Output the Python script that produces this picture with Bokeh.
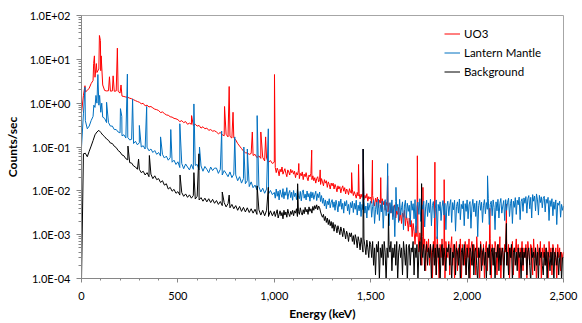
from bokeh.plotting import figure
from bokeh.models import (Range1d, FixedTicker, SingleIntervalTicker, NumeralTickFormatter,
                          CustomJSTickFormatter, Legend, LegendItem)
from bokeh.embed import file_html
from bokeh.resources import INLINE

# ---------------- data ----------------
# channel energies: 10 keV bins below 1 MeV, 5 keV bins above
energy_kev = list(range(0, 1000, 10)) + list(range(1000, 2501, 5))

uo3_cps = [
    # 0 - 990 keV (10 keV)
    0.6, 1.5, 1.8, 1.95, 2.2, 2.8, 3.3, 3.9, 5.0, 6.0,
    5.5, 2.6, 1.95, 1.9, 1.92, 1.88, 1.9, 1.87, 1.9, 1.86,
    1.7, 1.45, 1.42, 1.38, 1.36, 1.3, 1.26, 1.2, 1.14, 1.09,
    1.05, 0.97, 0.99, 0.87, 0.9, 0.82, 0.84, 0.78, 0.73, 0.71,
    0.68, 0.61, 0.63, 0.58, 0.54, 0.53, 0.49, 0.48, 0.45, 0.44,
    0.42, 0.38, 0.4, 0.36, 0.38, 0.33, 0.35, 0.33, 0.31, 0.33,
    0.3, 0.31, 0.27, 0.29, 0.26, 0.27, 0.24, 0.25, 0.23, 0.235,
    0.22, 0.2, 0.215, 0.19, 0.18, 0.195, 0.17, 0.175, 0.16, 0.162,
    0.145, 0.12, 0.105, 0.092, 0.081, 0.074, 0.073, 0.068, 0.071, 0.064,
    0.068, 0.057, 0.063, 0.055, 0.058, 0.048, 0.055, 0.045, 0.049, 0.042,
    # 1000 - 2500 keV (5 keV)
    0.045, 0.034, 0.026, 0.033, 0.029, 0.022, 0.031, 0.027, 0.035, 0.024,
    0.028, 0.032, 0.025, 0.021, 0.03, 0.027, 0.023, 0.031, 0.026, 0.029,
    0.024, 0.028, 0.02, 0.026, 0.023, 0.029, 0.019, 0.025, 0.022, 0.027,
    0.018, 0.024, 0.021, 0.026, 0.02, 0.017, 0.023, 0.021, 0.025, 0.018,
    0.022, 0.017, 0.02, 0.015, 0.019, 0.021, 0.016, 0.018, 0.014, 0.019,
    0.016, 0.013, 0.018, 0.015, 0.017, 0.012, 0.016, 0.014, 0.011, 0.015,
    0.013, 0.015, 0.011, 0.014, 0.012, 0.0095, 0.013, 0.011, 0.0125, 0.009,
    0.0115, 0.013, 0.0098, 0.0118, 0.0085, 0.011, 0.0102, 0.0082, 0.0112, 0.0094,
    0.0088, 0.0105, 0.0078, 0.0096, 0.0082, 0.0068, 0.0092, 0.0076, 0.0088, 0.0065,
    0.0084, 0.0071, 0.0093, 0.0062, 0.0079, 0.0068, 0.0086, 0.0058, 0.0074, 0.0066,
    0.0072, 0.0052, 0.0078, 0.0058, 0.0045, 0.0068, 0.0055, 0.0072, 0.0042, 0.0061,
    0.0053, 0.0039, 0.0066, 0.0048, 0.0058, 0.0036, 0.0055, 0.0046, 0.0033, 0.0052,
    0.0048, 0.0031, 0.0044, 0.0026, 0.0039, 0.0048, 0.0024, 0.0035, 0.0029, 0.0042,
    0.0021, 0.0033, 0.0018, 0.0031, 0.0025, 0.0036, 0.0016, 0.0027, 0.0021, 0.0012,
    0.0024, 0.0015, 0.0021, 0.0009, 0.0018, 0.0012, 0.0006, 0.0016, 0.0009, 0.0013,
    0.0004, 0.0011, 0.0007, 0.0002, 0.0009, 0.0005, 0.0008, 0.00015, 0.0007, 0.0004,
    0.0008, 0.0002, 0.0006, 0.0004, 0.00009, 0.0007, 0.0003, 0.0005, 0.00012, 0.0009,
    0.0004, 0.00007, 0.0006, 0.0003, 0.0008, 0.0002, 0.0005, 0.00009, 0.0007, 0.0004,
    0.0003, 0.0007, 0.00012, 0.0005, 0.0009, 0.0002, 0.0006, 0.00009, 0.0004, 0.0007,
    0.00015, 0.0005, 0.0003, 0.0008, 0.00007, 0.0006, 0.0004, 0.0002, 0.0007, 0.00012,
    0.0006, 0.0003, 0.0008, 0.00009, 0.0005, 0.0007, 0.0002, 0.0006, 0.0004, 0.00012,
    0.0009, 0.0003, 0.0005, 0.00007, 0.0007, 0.0004, 0.0002, 0.0006, 0.00009, 0.0005,
    0.0007, 0.00015, 0.0005, 0.0003, 0.0008, 0.00009, 0.0006, 0.0004, 0.0002, 0.0007,
    0.0005, 0.00012, 0.0006, 0.0003, 0.0009, 0.00007, 0.0005, 0.0004, 0.0002, 0.0006,
    0.0004, 0.0008, 0.0002, 0.0006, 0.00009, 0.0005, 0.0003, 0.0007, 0.00012, 0.0005,
    0.0004, 0.0008, 0.0002, 0.0006, 0.00007, 0.0005, 0.0003, 0.0007, 0.00015, 0.0005,
    0.0003, 0.0006, 0.00009, 0.0007, 0.0004, 0.0002, 0.0006, 0.0005, 0.00012, 0.0008,
    0.0003, 0.0005, 0.00007, 0.0006, 0.0004, 0.0002, 0.0007, 0.00009, 0.0005, 0.0003,
    0.0006, 0.0002, 0.0005, 0.0004, 0.00009, 0.0007, 0.0003, 0.0005, 0.00012, 0.0006,
    0.0004, 0.0002, 0.0005, 0.00007, 0.0006, 0.0003, 0.0005, 0.00015, 0.0004, 0.0003,
    0.0004,
]

lantern_cps = [
    # 0 - 990 keV (10 keV)
    0.1, 0.57, 0.4, 0.26, 0.3, 0.4, 0.5, 0.8, 1.0, 0.9,
    0.62, 0.48, 0.45, 0.36, 0.36, 0.3, 0.3, 0.25, 0.25, 0.22,
    0.21, 0.18, 0.19, 0.16, 0.165, 0.145, 0.15, 0.12, 0.135, 0.112,
    0.125, 0.1, 0.107, 0.09, 0.099, 0.082, 0.09, 0.075, 0.083, 0.068,
    0.075, 0.062, 0.068, 0.056, 0.062, 0.05, 0.057, 0.045, 0.05, 0.04,
    0.046, 0.034, 0.042, 0.032, 0.041, 0.035, 0.03, 0.04, 0.031, 0.038,
    0.04, 0.03, 0.037, 0.028, 0.036, 0.031, 0.026, 0.035, 0.029, 0.033,
    0.033, 0.025, 0.031, 0.023, 0.029, 0.025, 0.021, 0.027, 0.02, 0.024,
    0.023, 0.017, 0.021, 0.015, 0.019, 0.0145, 0.017, 0.0125, 0.016, 0.0118,
    0.0135, 0.0105, 0.0125, 0.0094, 0.0115, 0.0088, 0.011, 0.0085, 0.0102, 0.0082,
    # 1000 - 2500 keV (5 keV)
    0.0092, 0.0068, 0.011, 0.0075, 0.0098, 0.0062, 0.0105, 0.0084, 0.0071, 0.0112,
    0.0066, 0.0095, 0.0079, 0.0118, 0.0064, 0.0088, 0.0102, 0.007, 0.0093, 0.0061,
    0.0102, 0.0074, 0.0089, 0.0063, 0.0108, 0.0078, 0.0066, 0.0097, 0.0059, 0.0091,
    0.0105, 0.0068, 0.0084, 0.0062, 0.0099, 0.0072, 0.0087, 0.0058, 0.0095, 0.0069,
    0.0092, 0.0064, 0.0081, 0.0098, 0.006, 0.0086, 0.007, 0.0094, 0.0057, 0.0078,
    0.0052, 0.0068, 0.0045, 0.0062, 0.0039, 0.0058, 0.0048, 0.0066, 0.0041, 0.0055,
    0.0063, 0.0042, 0.0056, 0.0036, 0.0061, 0.0047, 0.0033, 0.0058, 0.0044, 0.0065,
    0.0038, 0.0052, 0.0031, 0.0057, 0.0045, 0.006, 0.0035, 0.0049, 0.0029, 0.0054,
    0.0041, 0.0058, 0.0032, 0.0052, 0.0038, 0.0061, 0.0028, 0.0047, 0.0035, 0.0056,
    0.0026, 0.0049, 0.0037, 0.0059, 0.0031, 0.0045, 0.0024, 0.0053, 0.0036, 0.0048,
    0.0058, 0.0025, 0.0044, 0.0062, 0.0018, 0.0037, 0.0055, 0.0029, 0.0065, 0.0021,
    0.0048, 0.0033, 0.0059, 0.0014, 0.0042, 0.0063, 0.0027, 0.0051, 0.0038, 0.0016,
    0.0054, 0.0031, 0.0062, 0.0022, 0.0046, 0.0009, 0.0057, 0.0035, 0.0049, 0.0019,
    0.0064, 0.0028, 0.0041, 0.0056, 0.0013, 0.0045, 0.0061, 0.0024, 0.0052, 0.0034,
    0.0047, 0.0017, 0.0059, 0.0036, 0.0051, 0.0023, 0.0063, 0.0011, 0.0044, 0.0055,
    0.0029, 0.0066, 0.002, 0.0048, 0.0038, 0.0058, 0.0015, 0.0043, 0.0061, 0.0026,
    0.0053, 0.0032, 0.0064, 0.0016, 0.0046, 0.0057, 0.0024, 0.0039, 0.0062, 0.0008,
    0.0049, 0.0035, 0.0056, 0.0021, 0.0043, 0.006, 0.0028, 0.0052, 0.0013, 0.0045,
    0.0058, 0.0027, 0.0047, 0.0063, 0.0019, 0.0054, 0.0037, 0.0061, 0.0012, 0.0044,
    0.0056, 0.0031, 0.0065, 0.0022, 0.0049, 0.0039, 0.0059, 0.0016, 0.0051, 0.0034,
    0.0062, 0.0023, 0.0048, 0.0057, 0.0014, 0.0043, 0.0064, 0.0033, 0.0052, 0.0026,
    0.0059, 0.0009, 0.0046, 0.0061, 0.0036, 0.0055, 0.0019, 0.0047, 0.0063, 0.003,
    0.0054, 0.0038, 0.0066, 0.0017, 0.0049, 0.0058, 0.0027, 0.0062, 0.0042, 0.0013,
    0.0056, 0.0035, 0.0064, 0.0024, 0.0051, 0.0067, 0.0031, 0.0045, 0.006, 0.0021,
    0.0063, 0.0036, 0.0055, 0.0068, 0.0026, 0.0051, 0.0065, 0.0018, 0.0058, 0.0042,
    0.007, 0.0029, 0.0061, 0.0048, 0.0072, 0.0022, 0.0057, 0.0066, 0.0034, 0.0069,
    0.0052, 0.0074, 0.0031, 0.0066, 0.0078, 0.0039, 0.0071, 0.0024, 0.0082, 0.0058,
    0.0076, 0.0035, 0.0085, 0.0062, 0.0028, 0.0079, 0.0054, 0.0073, 0.0041, 0.0068,
    0.0075, 0.0033, 0.0064, 0.0052, 0.0071, 0.0021, 0.006, 0.0044, 0.0066, 0.0027,
    0.0056, 0.0038, 0.0062, 0.0017, 0.0053, 0.0047, 0.0058, 0.0025, 0.0049, 0.0036,
    0.0045,
]

background_cps = [
    # 0 - 990 keV (10 keV)
    0.00009, 0.07, 0.072, 0.06, 0.08, 0.105, 0.14, 0.19, 0.22, 0.24,
    0.215, 0.188, 0.172, 0.152, 0.142, 0.123, 0.12, 0.104, 0.097, 0.083,
    0.077, 0.066, 0.063, 0.054, 0.051, 0.044, 0.043, 0.037, 0.035, 0.031,
    0.031, 0.026, 0.028, 0.023, 0.026, 0.021, 0.024, 0.019, 0.022, 0.018,
    0.019, 0.0155, 0.017, 0.0135, 0.0145, 0.011, 0.012, 0.0098, 0.0108, 0.0088,
    0.0096, 0.008, 0.0091, 0.0075, 0.0085, 0.0071, 0.0081, 0.0068, 0.0078, 0.0065,
    0.0075, 0.0062, 0.007, 0.0058, 0.0068, 0.0056, 0.0066, 0.0054, 0.0064, 0.0052,
    0.006, 0.0049, 0.0057, 0.0046, 0.0054, 0.0043, 0.0051, 0.0041, 0.0049, 0.0039,
    0.0046, 0.0036, 0.0044, 0.0034, 0.0042, 0.0033, 0.0041, 0.0032, 0.0039, 0.0031,
    0.0038, 0.0029, 0.0037, 0.0028, 0.0036, 0.0027, 0.0036, 0.0026, 0.0035, 0.0027,
    # 1000 - 2500 keV (5 keV)
    0.0034, 0.0026, 0.0031, 0.0037, 0.0024, 0.0029, 0.0035, 0.0027, 0.0032, 0.0023,
    0.0036, 0.0028, 0.0033, 0.0025, 0.0038, 0.003, 0.0026, 0.0034, 0.0029, 0.0036,
    0.0027, 0.0035, 0.0031, 0.0039, 0.0026, 0.0034, 0.0029, 0.0041, 0.0032, 0.0028,
    0.0037, 0.003, 0.0042, 0.0033, 0.0038, 0.0029, 0.0043, 0.0034, 0.0039, 0.0031,
    0.0044, 0.0036, 0.0046, 0.0039, 0.0048, 0.0037, 0.0045, 0.0041, 0.0033, 0.0028,
    0.0025, 0.0029, 0.0021, 0.0026, 0.0019, 0.0024, 0.0017, 0.0022, 0.0016, 0.002,
    0.0014, 0.0019, 0.0012, 0.0017, 0.0015, 0.0011, 0.0016, 0.0013, 0.001, 0.0015,
    0.0012, 0.0009, 0.0014, 0.0011, 0.0008, 0.0012, 0.001, 0.0007, 0.0011, 0.0009,
    0.0011, 0.0007, 0.00095, 0.0006, 0.001, 0.0008, 0.0005, 0.0009, 0.0007, 0.00045,
    0.00085, 0.0006, 0.0004, 0.0008, 0.00055, 0.00035, 0.00075, 0.0005, 0.0003, 0.0007,
    0.0006, 0.0003, 0.0007, 0.0002, 0.0005, 0.00012, 0.0006, 0.0004, 0.0007, 0.00009,
    0.0005, 0.0003, 0.0006, 0.0002, 0.0007, 0.0004, 0.00008, 0.0005, 0.0003, 0.0006,
    0.0004, 0.0007, 0.00015, 0.0005, 0.0003, 0.0006, 0.0002, 0.0007, 0.00009, 0.0004,
    0.0006, 0.0003, 0.0005, 0.00012, 0.0007, 0.0004, 0.0002, 0.0006, 0.00008, 0.0005,
    0.0006, 0.0002, 0.0005, 0.0004, 0.0007, 0.00012, 0.0005, 0.0003, 0.0006, 0.00009,
    0.0004, 0.0007, 0.0002, 0.0005, 0.0003, 0.0006, 0.00015, 0.0004, 0.0006, 0.0002,
    0.0005, 0.0003, 0.0006, 0.00009, 0.0004, 0.0006, 0.0002, 0.0005, 0.00012, 0.0006,
    0.0003, 0.0005, 0.00008, 0.0004, 0.0006, 0.0002, 0.0005, 0.0003, 0.00015, 0.0005,
    0.0004, 0.0006, 0.0002, 0.0005, 0.00009, 0.0004, 0.0003, 0.0006, 0.00012, 0.0005,
    0.0004, 0.0002, 0.0006, 0.00008, 0.0004, 0.0005, 0.0002, 0.0006, 0.0003, 0.00012,
    0.0005, 0.0003, 0.00009, 0.0005, 0.0004, 0.0002, 0.0006, 0.00012, 0.0004, 0.0005,
    0.0002, 0.00008, 0.0005, 0.0003, 0.0006, 0.00015, 0.0004, 0.0005, 0.0002, 0.0004,
    0.00009, 0.0005, 0.0003, 0.0006, 0.00012, 0.0004, 0.0005, 0.0002, 0.0005, 0.00008,
    0.0004, 0.0003, 0.0006, 0.00015, 0.0005, 0.0002, 0.0004, 0.0005, 0.00009, 0.0004,
    0.0005, 0.0002, 0.0004, 0.00012, 0.0005, 0.0003, 0.0006, 0.00008, 0.0004, 0.0005,
    0.0002, 0.0004, 0.00015, 0.0005, 0.0003, 0.0004, 0.00009, 0.0005, 0.0002, 0.0004,
    0.0003, 0.0005, 0.00012, 0.0004, 0.0005, 0.0002, 0.00008, 0.0005, 0.0003, 0.0004,
    0.00015, 0.0005, 0.0002, 0.0004, 0.00009, 0.0005, 0.0003, 0.0004, 0.0002, 0.00012,
    0.0004, 0.0002, 0.0005, 0.00009, 0.0004, 0.0003, 0.00015, 0.0004, 0.0002, 0.0005,
    0.00008, 0.0004, 0.0003, 0.0002, 0.0004, 0.00012, 0.0003, 0.0004, 0.00009, 0.0003,
    0.0003,
]

# photopeaks (energy keV, peak counts/sec)
uo3_peak_kev = [18, 63, 67, 77, 93, 98, 102, 145, 164, 186, 205, 571, 742, 766, 786,
                886, 930, 955, 1001, 1127, 1194, 1238, 1401, 1437, 1461, 1509, 1552,
                1588, 1742, 1771, 1833, 1881, 2118, 2204]
uo3_peak_cps = [2.5, 8, 12, 8, 35, 27, 12, 4.0, 4.2, 18, 2.6, 0.52, 0.84, 2.4, 0.62,
                0.22, 0.22, 0.17, 4.5, 0.042, 0.085, 0.03, 0.026, 0.04, 0.09, 0.05, 0.02,
                0.022, 0.063, 0.012, 0.045, 0.018, 0.004, 0.005]

lantern_peak_kev = [18, 64, 75, 85, 94, 105, 130, 202, 209, 238, 265, 300, 338, 410,
                    463, 510, 583, 612, 727, 795, 842, 860, 911, 969, 1461, 1588, 1631, 2106]
lantern_peak_cps = [2.3, 0.9, 1.5, 4.5, 1.5, 1.0, 1.05, 0.75, 0.5, 4.6, 1.25, 0.31, 0.84,
                    0.17, 0.25, 0.34, 0.96, 0.1, 0.23, 0.17, 0.1, 0.09, 0.52, 0.26, 0.09,
                    0.042, 0.012, 0.022]

background_peak_kev = [241, 296, 352, 511, 583, 609, 730, 766, 911, 969, 1121, 1461,
                       1592, 1764, 2204]
background_peak_cps = [0.105, 0.053, 0.064, 0.023, 0.026, 0.07, 0.0094, 0.008, 0.013,
                       0.012, 0.0145, 0.09, 0.003, 0.0146, 0.0018]

series_names = ["UO3", "Lantern Mantle", "Background"]
series_colors = ["#FF0000", "#0070C0", "#000000"]

x_tick_interval = 500
y_tick_values = [1e-4, 1e-3, 1e-2, 1e-1, 1, 10, 100]
y_tick_labels = ["1.0E-04", "1.0E-03", "1.0E-02", "1.0E-01", "1.0E+00", "1.0E+01", "1.0E+02"]

for arr in (uo3_cps, lantern_cps, background_cps):
    assert len(arr) == len(energy_kev), (len(arr), len(energy_kev))


def spectrum(grid_e, grid_v, peak_e, peak_v):
    pts = sorted(list(zip(grid_e, grid_v)) + list(zip(peak_e, peak_v)))
    return [e for e, _ in pts], [v for _, v in pts]


# ---------------- figure ----------------
FONT = "Lato"
AXIS_GRAY = "#868686"

p = figure(width=582, height=323, x_range=Range1d(0, 2500), y_range=Range1d(1e-4, 1e2),
           y_axis_type="log", output_backend="svg", toolbar_location=None,
           min_border_left=81, min_border_right=19, min_border_top=15, min_border_bottom=45,
           background_fill_color="white", border_fill_color="white")
p.xgrid.visible = False
p.ygrid.visible = False
p.outline_line_color = "#A6A6A6"
p.outline_line_width = 1

renderers = []
for grid_v, pk_e, pk_v, color in [
    (uo3_cps, uo3_peak_kev, uo3_peak_cps, series_colors[0]),
    (lantern_cps, lantern_peak_kev, lantern_peak_cps, series_colors[1]),
    (background_cps, background_peak_kev, background_peak_cps, series_colors[2]),
]:
    xs, ys = spectrum(energy_kev, grid_v, pk_e, pk_v)
    r = p.line(xs, ys, line_color=color, line_width=1)
    renderers.append(r)

# x axis
xa = p.xaxis[0]
xa.ticker = SingleIntervalTicker(interval=x_tick_interval, num_minor_ticks=5)
xa.formatter = NumeralTickFormatter(format="0,0")
xa.axis_line_color = AXIS_GRAY
xa.major_tick_line_color = AXIS_GRAY
xa.minor_tick_line_color = AXIS_GRAY
xa.major_tick_out = 4
xa.major_tick_in = 0
xa.minor_tick_out = 2
xa.minor_tick_in = 0
xa.major_label_text_font = FONT
xa.major_label_text_font_size = "11px"
xa.major_label_text_color = "#000000"
xa.major_label_standoff = 9
xa.axis_label = "Energy (keV)"
xa.axis_label_text_font = FONT
xa.axis_label_text_font_style = "bold"
xa.axis_label_text_font_size = "12px"
xa.axis_label_text_color = "#000000"
xa.axis_label_standoff = 3

# y axis
ya = p.yaxis[0]
ya.ticker = FixedTicker(ticks=y_tick_values,
                        minor_ticks=[m * 10.0 ** e for e in range(-4, 2) for m in range(2, 10)])
ya.formatter = CustomJSTickFormatter(args=dict(vals=y_tick_values, labels=y_tick_labels), code="""
let best = 0;
for (let i = 1; i < vals.length; i++) {
  if (Math.abs(Math.log10(vals[i] / tick)) < Math.abs(Math.log10(vals[best] / tick))) best = i;
}
return labels[best];
""")
ya.axis_line_color = AXIS_GRAY
ya.major_tick_line_color = AXIS_GRAY
ya.minor_tick_line_color = AXIS_GRAY
ya.major_tick_out = 5
ya.major_tick_in = 0
ya.minor_tick_out = 3
ya.minor_tick_in = 0
ya.major_label_text_font = FONT
ya.major_label_text_font_size = "11px"
ya.major_label_text_color = "#000000"
ya.major_label_standoff = 6
ya.axis_label = "Counts/sec"
ya.axis_label_text_font = FONT
ya.axis_label_text_font_style = "bold"
ya.axis_label_text_font_size = "12px"
ya.axis_label_text_color = "#000000"
ya.axis_label_standoff = 7

legend = Legend(items=[LegendItem(label=n, renderers=[r]) for n, r in zip(series_names, renderers)],
                location=(363, 199), orientation="vertical",
                border_line_color=None, background_fill_alpha=0,
                padding=0, margin=0, spacing=4,
                glyph_width=16, glyph_height=15, label_height=15, label_standoff=4,
                label_text_font=FONT, label_text_font_size="11.5px", label_text_color="#000000")
p.add_layout(legend)

open("out.html", "w").write(file_html(p, INLINE))
